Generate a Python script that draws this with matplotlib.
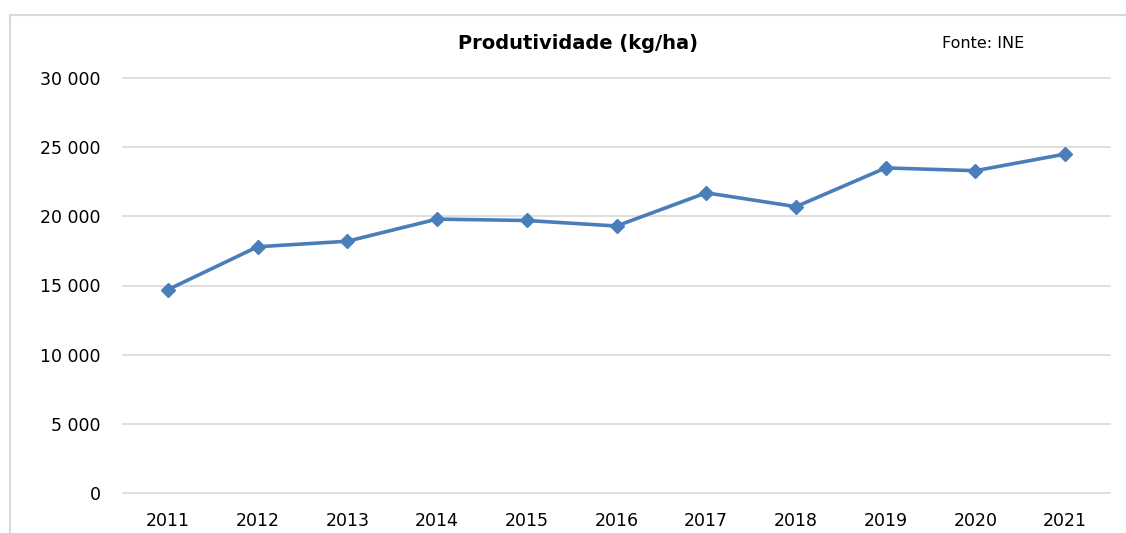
import matplotlib.pyplot as plt
from matplotlib.lines import Line2D

years = ["2011", "2012", "2013", "2014", "2015", "2016", "2017", "2018", "2019", "2020", "2021"]
produtividade = [14700, 17800, 18200, 19800, 19700, 19300, 21700, 20700, 23500, 23300, 24500]
yticks = [0, 5000, 10000, 15000, 20000, 25000, 30000]

plt.rcParams['font.family'] = ['DejaVu Sans']

fig = plt.figure(figsize=(11.26, 5.33), dpi=100)
ax = fig.add_axes([123 / 1126, 40 / 533, 987 / 1126, 415 / 533])

# outer chart frame: top and left edges only, the rest runs off the image
fx, fy = 10 / 1126, 1 - 15 / 533
fig.lines.append(Line2D([fx, 1.0], [fy, fy], transform=fig.transFigure,
                        color='#D9D9D9', linewidth=1.5))
fig.lines.append(Line2D([fx, fx], [0.0, fy], transform=fig.transFigure,
                        color='#D9D9D9', linewidth=1.5))

x = range(len(years))
ax.plot(x, produtividade, color='#4A7EBB', linewidth=2.6, marker='D',
        markersize=7.5, markerfacecolor='#4A7EBB', markeredgecolor='#4A7EBB',
        zorder=3)

ax.set_xlim(-0.5, len(years) - 0.5)
ax.set_ylim(0, 30000)
ax.set_xticks(list(x))
ax.set_xticklabels(years)
ax.set_yticks(yticks)
ax.set_yticklabels([f"{v:,}".replace(",", " ") for v in yticks])
ax.tick_params(length=0, labelsize=12.5, colors='black')
ax.tick_params(axis='y', pad=16)
ax.tick_params(axis='x', pad=14)
ax.grid(axis='y', color='#D9D9D9', linewidth=1.2)
for gl in ax.get_ygridlines():
    gl.set_clip_on(False)
ax.set_axisbelow(True)
for s in ax.spines.values():
    s.set_visible(False)

fig.text(578 / 1126, 1 - 43 / 533, "Produtividade (kg/ha)", ha='center', va='center',
         fontsize=14, fontweight='bold')
fig.text(942 / 1126, 1 - 43 / 533, "Fonte: INE", ha='left', va='center', fontsize=11.5)

fig.savefig("out.png", dpi=100)
